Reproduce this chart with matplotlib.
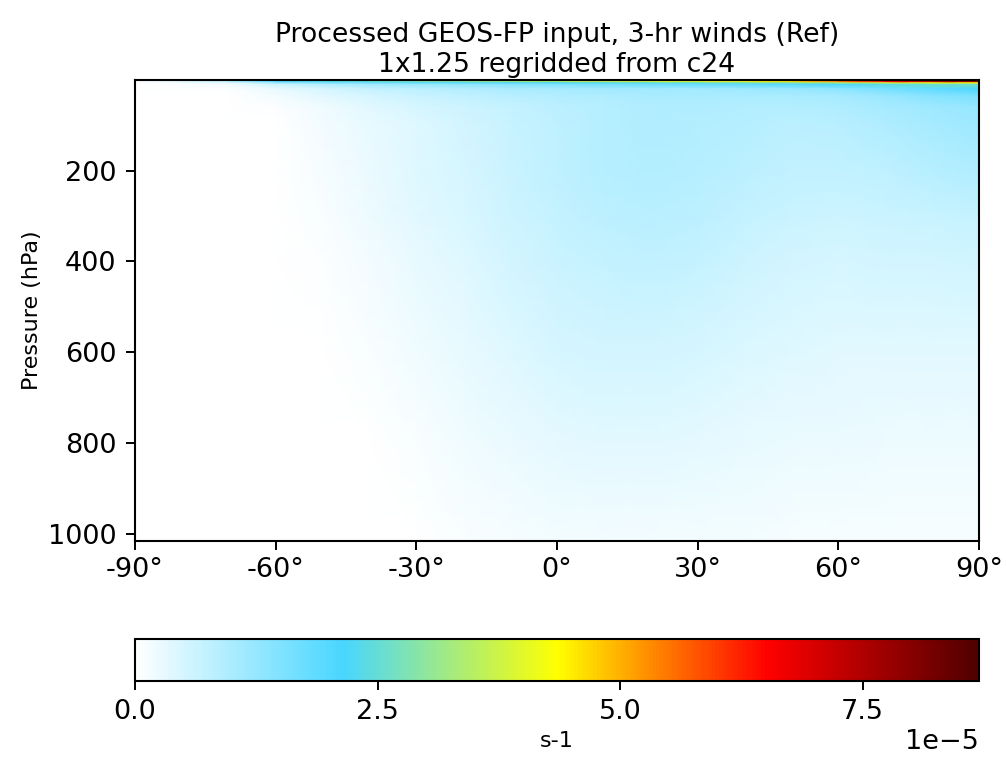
import matplotlib
matplotlib.use("Agg")
import matplotlib.pyplot as plt
import numpy as np
from matplotlib.colors import LinearSegmentedColormap

# zonal mean field, in units of 1e-5 s-1
lats = [-90, -70, -60, -50, -40, -30, -20, -10, 0, 10, 20, 30, 40, 50, 60, 70, 80, 90]
levels = [0.01, 4.5, 7, 10, 20, 35, 60, 100, 200, 300, 400, 600, 800, 1015]

row_0 = [0, 1.0, 2.2, 2.5, 2.8, 3.1, 3.4, 3.7, 4.0, 4.2, 4.4, 4.6, 4.9, 5.4, 6.2, 7.3, 8.2, 8.7]
row_4 = [0, 0.8, 2.0, 2.3, 2.5, 2.7, 2.9, 3.1, 3.3, 3.5, 3.7, 3.9, 4.1, 4.6, 5.4, 6.5, 7.5, 8.0]
row_7 = [0, 0.4, 1.2, 1.5, 1.7, 1.9, 2.0, 2.1, 2.2, 2.3, 2.4, 2.5, 2.7, 2.9, 3.3, 3.8, 4.2, 4.4]
row_10 = [0, 0.15, 0.6, 0.9, 1.1, 1.2, 1.3, 1.4, 1.5, 1.6, 1.7, 1.8, 1.9, 2.0, 2.2, 2.4, 2.6, 2.7]
row_20 = [0, 0.05, 0.3, 0.5, 0.7, 0.8, 0.9, 1.0, 1.05, 1.1, 1.1, 1.1, 1.15, 1.2, 1.35, 1.6, 1.9, 2.1]
row_35 = [0, 0, 0.15, 0.35, 0.5, 0.62, 0.72, 0.82, 0.9, 0.95, 1.0, 1.0, 1.0, 1.0, 1.05, 1.2, 1.4, 1.55]
row_60 = [0, 0, 0.06, 0.2, 0.35, 0.48, 0.6, 0.7, 0.8, 0.88, 0.92, 0.92, 0.9, 0.9, 0.95, 1.05, 1.15, 1.25]
row_100 = [0, 0, 0.02, 0.14, 0.28, 0.4, 0.52, 0.66, 0.78, 0.88, 0.92, 0.9, 0.85, 0.8, 0.82, 0.92, 1.05, 1.15]
row_200 = [0, 0, 0, 0.12, 0.27, 0.38, 0.5, 0.62, 0.75, 0.86, 0.9, 0.88, 0.8, 0.72, 0.72, 0.76, 0.85, 0.92]
row_300 = [0, 0, 0, 0.08, 0.22, 0.34, 0.46, 0.58, 0.7, 0.8, 0.84, 0.8, 0.7, 0.62, 0.6, 0.62, 0.66, 0.7]
row_400 = [0, 0, 0, 0.04, 0.16, 0.28, 0.4, 0.52, 0.62, 0.7, 0.72, 0.68, 0.6, 0.52, 0.5, 0.52, 0.54, 0.56]
row_600 = [0, 0, 0, 0.01, 0.09, 0.19, 0.3, 0.4, 0.48, 0.52, 0.52, 0.49, 0.44, 0.38, 0.35, 0.34, 0.35, 0.35]
row_800 = [0, 0, 0, 0, 0.03, 0.1, 0.18, 0.26, 0.32, 0.35, 0.35, 0.33, 0.3, 0.26, 0.24, 0.23, 0.23, 0.23]
row_1015 = [0, 0, 0, 0, 0, 0.03, 0.07, 0.12, 0.15, 0.16, 0.16, 0.16, 0.15, 0.13, 0.12, 0.12, 0.12, 0.12]

vmax = 8.7e-5
xticks = [-90, -60, -30, 0, 30, 60, 90]
xticklabels = ["-90°", "-60°", "-30°", "0°", "30°", "60°", "90°"]
yticks = [200, 400, 600, 800, 1000]
cbar_ticks = [0, 2.5e-5, 5e-5, 7.5e-5]

# white -> blue -> green -> yellow -> red
cmap = LinearSegmentedColormap.from_list("wh_bl_gr_yl_rd", [
    (0.0, "#ffffff"),
    (0.246, "#48d6ff"),
    (0.5, "#ffff00"),
    (0.61, "#ff8c00"),
    (0.75, "#ff0000"),
    (1.0, "#500000"),
])

rows = [row_0, row_4, row_7, row_10, row_20, row_35, row_60, row_100, row_200,
        row_300, row_400, row_600, row_800, row_1015]
field = np.array(rows) * 1e-5
X, Y = np.meshgrid(lats, levels)

fig = plt.figure(figsize=(10.06, 7.64), dpi=100)
ax = fig.add_axes([0.1342, 0.2923, 0.8390, 0.6031])
cax = fig.add_axes([0.1342, 0.1086, 0.8390, 0.055])

mesh = ax.pcolormesh(X, Y, field, cmap=cmap, vmin=0, vmax=vmax, shading="gouraud")
ax.set_xlim(-90, 90)
ax.set_ylim(1015, 0.01)
ax.set_xticks(xticks)
ax.set_xticklabels(xticklabels)
ax.set_yticks(yticks)
ax.tick_params(labelsize=19.5, width=1.4, length=6.5)
ax.tick_params(axis="x", pad=5.5)
ax.tick_params(axis="y", pad=7)
ax.set_ylabel("Pressure (hPa)", fontsize=16)
ax.set_title("Processed GEOS-FP input, 3-hr winds (Ref)\n1x1.25 regridded from c24",
             fontsize=19.2)
for sp in ax.spines.values():
    sp.set_linewidth(1.5)

cb = fig.colorbar(mesh, cax=cax, orientation="horizontal")
cb.set_ticks(cbar_ticks)
cb.ax.tick_params(labelsize=19.5, width=1.4, length=6.5, pad=6.5)
cb.ax.xaxis.get_offset_text().set_fontsize(19.5)
cb.set_label("s-1", fontsize=16)
cb.outline.set_linewidth(1.5)

fig.savefig("out.png", dpi=100)
